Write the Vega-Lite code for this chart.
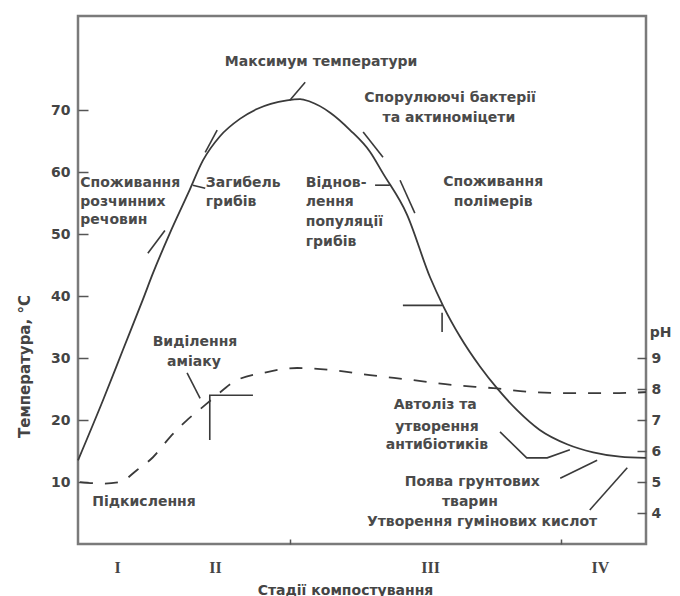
{
  "$schema": "https://vega.github.io/schema/vega-lite/v6.json",
  "width": 568,
  "height": 528,
  "autosize": {"type": "none"},
  "padding": {"left": 78, "top": 16, "right": 34, "bottom": 52},
  "background": "white",
  "config": {
    "view": {"stroke": "#7a7a7a", "strokeWidth": 2.5},
    "font": "DejaVu Sans",
    "axis": {"grid": false, "domain": false}
  },
  "datasets": {
    "temp": [
      {"x": 0, "T": 13.5}, {"x": 4.4, "T": 23.2}, {"x": 7.9, "T": 31.3}, {"x": 11.4, "T": 39.4},
      {"x": 13.2, "T": 43.7}, {"x": 16.2, "T": 50.2}, {"x": 19.4, "T": 56.6}, {"x": 22.0, "T": 61.9},
      {"x": 25.0, "T": 65.8}, {"x": 28.5, "T": 68.6}, {"x": 31.5, "T": 70.2}, {"x": 36.8, "T": 71.6},
      {"x": 39.1, "T": 71.8}, {"x": 40.8, "T": 71.4}, {"x": 44.4, "T": 69.6}, {"x": 47.9, "T": 66.8},
      {"x": 51.4, "T": 63.3}, {"x": 53.7, "T": 59.8}, {"x": 57.9, "T": 53.2}, {"x": 62.0, "T": 43.0},
      {"x": 64.3, "T": 38.4}, {"x": 67.3, "T": 33.4}, {"x": 70.8, "T": 28.6}, {"x": 73.8, "T": 25.1},
      {"x": 77.3, "T": 21.6}, {"x": 81.3, "T": 18.4}, {"x": 86.1, "T": 16.1}, {"x": 90.7, "T": 14.8},
      {"x": 95.4, "T": 14.1}, {"x": 100, "T": 13.9}
    ],
    "ph": [
      {"x": 0.35, "pH": 5.0}, {"x": 4.4, "pH": 4.95}, {"x": 7.4, "pH": 5.0}, {"x": 10.4, "pH": 5.39},
      {"x": 13.2, "pH": 5.8}, {"x": 16.2, "pH": 6.45}, {"x": 19.2, "pH": 7.0}, {"x": 21.5, "pH": 7.35},
      {"x": 24.1, "pH": 7.75}, {"x": 27.3, "pH": 8.22}, {"x": 33.3, "pH": 8.55}, {"x": 38.6, "pH": 8.68},
      {"x": 44.9, "pH": 8.61}, {"x": 51.4, "pH": 8.45}, {"x": 59.0, "pH": 8.29}, {"x": 66.0, "pH": 8.13},
      {"x": 73.1, "pH": 8.03}, {"x": 80.1, "pH": 7.9}, {"x": 87.1, "pH": 7.87}, {"x": 94.2, "pH": 7.87},
      {"x": 100, "pH": 7.9}
    ],
    "arrows": [
      {"id": "a", "o": 1, "x": 37.3, "T": 71.6}, {"id": "a", "o": 2, "x": 40.0, "T": 74.5},
      {"id": "b", "o": 1, "x": 22.4, "T": 63.2}, {"id": "b", "o": 2, "x": 24.5, "T": 66.8},
      {"id": "c", "o": 1, "x": 12.3, "T": 46.9}, {"id": "c", "o": 2, "x": 15.3, "T": 50.6},
      {"id": "d", "o": 1, "x": 20.2, "T": 57.9}, {"id": "d", "o": 2, "x": 22.4, "T": 57.4},
      {"id": "e1", "o": 1, "x": 50.2, "T": 66.5}, {"id": "e1", "o": 2, "x": 53.7, "T": 62.4},
      {"id": "e2", "o": 1, "x": 56.7, "T": 58.7}, {"id": "e2", "o": 2, "x": 59.3, "T": 53.4},
      {"id": "f", "o": 1, "x": 52.3, "T": 57.9}, {"id": "f", "o": 2, "x": 54.9, "T": 57.9},
      {"id": "g1", "o": 1, "x": 57.2, "T": 38.5}, {"id": "g1", "o": 2, "x": 64.1, "T": 38.5},
      {"id": "g2", "o": 1, "x": 64.1, "T": 37.3}, {"id": "g2", "o": 2, "x": 64.1, "T": 34.2},
      {"id": "h", "o": 1, "x": 19.2, "T": 27.6}, {"id": "h", "o": 2, "x": 21.5, "T": 23.5},
      {"id": "i", "o": 1, "x": 30.8, "T": 24.0}, {"id": "i", "o": 2, "x": 23.2, "T": 24.0}, {"id": "i", "o": 3, "x": 23.2, "T": 16.8},
      {"id": "j", "o": 1, "x": 74.3, "T": 18.1}, {"id": "j", "o": 2, "x": 79.0, "T": 13.9}, {"id": "j", "o": 3, "x": 82.6, "T": 13.9}, {"id": "j", "o": 4, "x": 86.6, "T": 15.2},
      {"id": "k", "o": 1, "x": 84.9, "T": 10.6}, {"id": "k", "o": 2, "x": 91.4, "T": 13.5},
      {"id": "l", "o": 1, "x": 90.1, "T": 5.5}, {"id": "l", "o": 2, "x": 96.7, "T": 12.3}
    ],
    "labelsCenter": [
      {"x": 42.8, "T": 77.7, "t": "Максимум температури"},
      {"x": 65.5, "T": 71.9, "t": "Спорулюючі бактерії"},
      {"x": 65.3, "T": 68.7, "t": "та актиноміцети"},
      {"x": 73.1, "T": 58.4, "t": "Споживання"},
      {"x": 73.1, "T": 55.2, "t": "полімерів"},
      {"x": 20.6, "T": 32.6, "t": "Виділення"},
      {"x": 20.4, "T": 29.4, "t": "аміаку"},
      {"x": 62.9, "T": 22.4, "t": "Автоліз та"},
      {"x": 63.2, "T": 18.9, "t": "утворення"},
      {"x": 63.2, "T": 16.0, "t": "антибіотиків"},
      {"x": 69.4, "T": 10.0, "t": "Поява грунтових"},
      {"x": 69.0, "T": 6.8, "t": "тварин"}
    ],
    "labelsLeft": [
      {"x": 0.4, "T": 58.2, "t": "Споживання"},
      {"x": 0.4, "T": 55.2, "t": "розчинних"},
      {"x": 0.4, "T": 52.3, "t": "речовин"},
      {"x": 22.5, "T": 58.2, "t": "Загибель"},
      {"x": 22.5, "T": 55.2, "t": "грибів"},
      {"x": 40.1, "T": 58.2, "t": "Віднов-"},
      {"x": 40.1, "T": 55.2, "t": "лення"},
      {"x": 40.1, "T": 51.9, "t": "популяції"},
      {"x": 40.1, "T": 48.7, "t": "грибів"},
      {"x": 2.5, "T": 6.8, "t": "Підкислення"}
    ],
    "labelsRight": [
      {"x": 91.4, "T": 3.5, "t": "Утворення гумінових кислот"}
    ]
  },
  "encoding": {
    "x": {
      "field": "x", "type": "quantitative",
      "scale": {"domain": [0, 100], "nice": false, "zero": false},
      "axis": {
        "title": "Стадії компостування",
        "values": [6.9, 24.1, 37.3, 62, 85, 91.9],
        "labelExpr": "datum.value == 6.9 ? 'I' : datum.value == 24.1 ? 'II' : datum.value == 62 ? 'III' : datum.value == 91.9 ? 'IV' : ''",
        "tickSize": -5,
        "tickColor": "#555",
        "tickWidth": 1.5,
        "tickOpacity": {"condition": {"test": "datum.value == 37.3 || datum.value == 85", "value": 1}, "value": 0},
        "labelFont": "Liberation Serif",
        "labelFontSize": 16,
        "labelFontWeight": "bold",
        "labelColor": "#444",
        "labelPadding": 20,
        "labelFlush": false,
        "labelOverlap": false,
        "titleFont": "DejaVu Sans",
        "titleFontSize": 14,
        "titleFontWeight": "bold",
        "titleColor": "#444",
        "titleX": 267,
        "titleY": 46,
        "titleAlign": "center",
        "titleBaseline": "middle"
      }
    }
  },
  "layer": [
    {
      "encoding": {
        "y": {
          "field": "T", "type": "quantitative",
          "scale": {"domain": [0, 85.2], "nice": false, "zero": false},
          "axis": {
            "title": "Температура,   °С",
            "values": [10, 20, 30, 40, 50, 60, 70],
            "tickSize": -10,
            "tickColor": "#555",
            "tickWidth": 1.5,
            "labelFontSize": 14,
            "labelFontWeight": "bold",
            "labelColor": "#444",
            "labelPadding": 18,
            "titleFontSize": 15,
            "titleFontWeight": "bold",
            "titleColor": "#444",
            "titleX": -54,
            "titleY": 350,
            "titleAngle": -90,
            "titleAlign": "center",
            "titleBaseline": "middle"
          }
        }
      },
      "layer": [
        {
          "data": {"name": "temp"},
          "mark": {"type": "line", "color": "#3a3a3a", "strokeWidth": 1.8, "interpolate": "monotone"}
        },
        {
          "data": {"name": "arrows"},
          "mark": {"type": "line", "color": "#3a3a3a", "strokeWidth": 1.6},
          "encoding": {
            "detail": {"field": "id"},
            "order": {"field": "o"}
          }
        },
        {
          "data": {"name": "labelsCenter"},
          "mark": {"type": "text", "align": "center", "baseline": "middle", "fontSize": 14, "fontWeight": "bold", "color": "#4a4a4a"},
          "encoding": {"text": {"field": "t"}}
        },
        {
          "data": {"name": "labelsLeft"},
          "mark": {"type": "text", "align": "left", "baseline": "middle", "fontSize": 14, "fontWeight": "bold", "color": "#4a4a4a"},
          "encoding": {"text": {"field": "t"}}
        },
        {
          "data": {"name": "labelsRight"},
          "mark": {"type": "text", "align": "right", "baseline": "middle", "fontSize": 14, "fontWeight": "bold", "color": "#4a4a4a"},
          "encoding": {"text": {"field": "t"}}
        }
      ]
    },
    {
      "data": {"name": "ph"},
      "mark": {"type": "line", "color": "#3a3a3a", "strokeWidth": 1.8, "strokeDash": [13, 12], "interpolate": "monotone"},
      "encoding": {
        "y": {
          "field": "pH", "type": "quantitative",
          "scale": {"domain": [3, 20.04], "nice": false, "zero": false},
          "axis": {
            "orient": "right",
            "title": "pH",
            "values": [4, 5, 6, 7, 8, 9],
            "tickSize": -9,
            "tickColor": "#555",
            "tickWidth": 1.5,
            "labelFontSize": 14,
            "labelFontWeight": "bold",
            "labelColor": "#444",
            "labelPadding": 14,
            "titleFontSize": 14,
            "titleFontWeight": "bold",
            "titleColor": "#444",
            "titleAngle": 0,
            "titleX": 14,
            "titleY": 316,
            "titleAlign": "center",
            "titleBaseline": "middle"
          }
        }
      }
    }
  ],
  "resolve": {"scale": {"y": "independent"}}
}
